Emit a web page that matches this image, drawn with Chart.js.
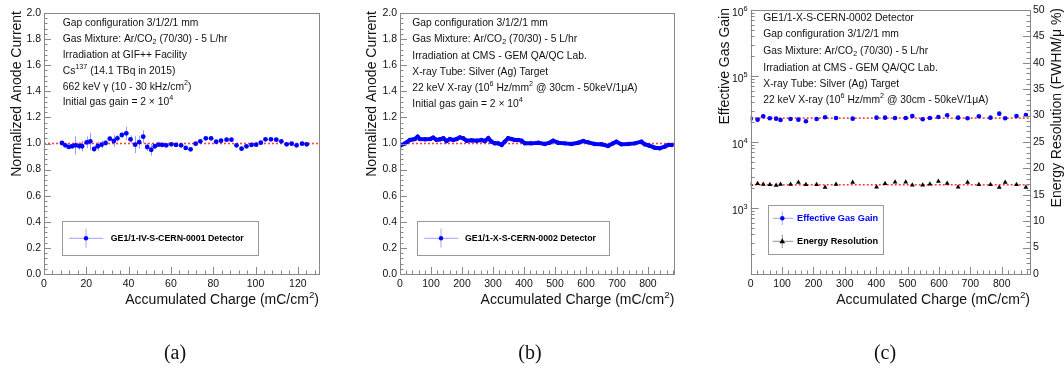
<!DOCTYPE html>
<html>
<head>
<meta charset="utf-8">
<script src="https://cdn.jsdelivr.net/npm/chart.js@4.4.1/dist/chart.umd.min.js"></script>
<style>
  html, body { margin: 0; padding: 0; background: #fff; }
  #wrap { position: relative; width: 1064px; height: 371px; overflow: hidden; }
  canvas { position: absolute; top: 0; }
</style>
</head>
<body>
<div id="wrap">
  <canvas id="ca" width="350" height="371" style="left:0px"></canvas>
  <canvas id="cb" width="350" height="371" style="left:350px"></canvas>
  <canvas id="cc" width="364" height="371" style="left:700px"></canvas>
</div>
<script>
// --- DATA ---
// (a) GE1/1-IV-S-CERN-0001 at GIF++
const xA = [8.5, 10.1, 11.7, 13.3, 14.8, 16.6, 18.0, 20.2, 21.9, 23.7, 25.4, 27.2, 29.1, 31.1, 33.0, 34.7, 36.8, 38.9, 40.9, 43.1,
            45.0, 46.9, 48.8, 50.7, 52.4, 54.2, 55.9, 57.8, 60.2, 62.4, 64.8, 67.0, 69.3, 71.7, 73.9, 76.5, 79.0, 81.4, 83.7, 86.3,
            88.6, 91.0, 93.4, 95.7, 98.1, 100.3, 102.5, 104.7, 107.3, 109.8, 112.2, 114.7, 117.1, 119.4, 122.0, 124.2];
const yA = [1.004, 0.986, 0.974, 0.979, 0.986, 0.981, 0.979, 1.009, 1.017, 0.958, 0.979, 0.991, 1.004, 1.037, 1.019, 1.040, 1.065, 1.078, 1.032, 0.991,
            1.011, 1.052, 0.973, 0.952, 0.979, 0.991, 0.989, 0.986, 0.994, 0.989, 0.986, 0.966, 0.955, 0.999, 1.017, 1.040, 1.040, 1.014, 1.022, 1.029,
            1.029, 0.986, 0.960, 0.978, 0.989, 0.991, 1.006, 1.032, 1.032, 1.029, 1.017, 0.994, 0.999, 0.986, 0.999, 0.994];
const errA = [0.005, 0.01, 0.01, 0.01, 0.07, 0.03, 0.04, 0.045, 0.066, 0.02, 0.035, 0.03, 0.02, 0.02, 0.045, 0.025, 0.02, 0.05, 0.03, 0.065,
              0.05, 0.05, 0.03, 0.045, 0.02, 0.008, 0.008, 0.008, 0.008, 0.008, 0.008, 0.008, 0.008, 0.008, 0.008, 0.008, 0.008, 0.008, 0.008, 0.008,
              0.008, 0.008, 0.008, 0.008, 0.008, 0.008, 0.008, 0.008, 0.008, 0.008, 0.008, 0.008, 0.008, 0.008, 0.008, 0.008];
const fitA = 1.0;

// (b) GE1/1-X-S-CERN-0002 with X-ray
const xB = [0, 16, 32, 48, 57, 64, 81, 97, 107, 118, 129, 140, 150, 161, 172, 183, 193, 204, 215, 231,
            247, 263, 274, 285, 295, 306, 317, 328, 338, 349, 360, 370, 381, 392, 403, 424, 446, 467, 483, 494,
            510, 532, 553, 575, 591, 607, 628, 650, 671, 687, 698, 714, 736, 757, 779, 789, 805, 822, 838, 854, 865, 877];
const yB = [0.983, 1.000, 1.027, 1.034, 1.052, 1.034, 1.032, 1.034, 1.045, 1.027, 1.032, 1.040, 1.019, 1.034, 1.027, 1.034, 1.047, 1.040, 1.022, 1.024,
            1.022, 1.027, 1.019, 1.040, 1.014, 1.001, 1.001, 0.989, 1.014, 1.040, 1.034, 1.027, 1.027, 1.022, 1.001, 1.001, 1.006, 0.996, 1.006, 1.022,
            1.006, 1.001, 0.996, 1.006, 1.019, 1.009, 0.996, 0.994, 0.981, 1.001, 1.014, 0.994, 0.996, 1.001, 1.014, 0.994, 0.983, 0.968, 0.963, 0.976, 0.989, 0.989];
const fitB = 1.0;

// (c) gain and energy resolution
const xC = [0, 22, 40, 61, 81, 95, 127, 152, 176, 210, 237, 272, 325, 401, 428, 460, 494, 515, 548, 571,
            598, 626, 661, 691, 727, 764, 792, 811, 847, 877];
const gainC = [22600, 21800, 24500, 22900, 22600, 21600, 22300, 21800, 20600, 22300, 23700, 23100, 22600, 23400, 23400, 23100, 23100, 24800, 22100, 23100,
               23900, 25400, 23400, 22900, 24500, 23400, 26900, 22900, 24800, 25600];
const resC = [16.98, 17.11, 16.98, 16.92, 16.79, 16.98, 16.98, 17.36, 16.92, 16.92, 16.41, 16.98, 17.36, 16.48, 17.11, 17.42, 17.42, 16.86, 16.86, 17.05,
              17.55, 17.17, 16.48, 17.36, 16.92, 16.92, 16.41, 17.36, 16.92, 16.41];
const fitGainC = 23000;
const fitResC = 16.9;

// tick labels
const xTicksA = [0, 20, 40, 60, 80, 100, 120];
const yTicks = [0, 0.2, 0.4, 0.6, 0.8, 1.0, 1.2, 1.4, 1.6, 1.8, 2.0];
const xTicksB = [0, 100, 200, 300, 400, 500, 600, 700, 800];
const xTicksC = [0, 100, 200, 300, 400, 500, 600, 700, 800];
const gainTicksC = [1e3, 1e4, 1e5, 1e6];
const gainLabelsC = ['10^{3}', '10^{4}', '10^{5}', '10^{6}'];
const resTicksC = [0, 5, 10, 15, 20, 25, 30, 35, 40, 45, 50];

const FONT = '"Liberation Sans", Arial, Helvetica, sans-serif';
const AXIS = '#888';

// --- HELPERS ---
function richText(ctx, str, x, y, size, opt) {
    opt = opt || {};
    const parts = [];
    const re = /([\^_])\{([^}]*)\}/g;
    let last = 0, m;
    while ((m = re.exec(str))) {
        if (m.index > last) parts.push({ t: str.slice(last, m.index), k: '' });
        parts.push({ t: m[2], k: m[1] });
        last = re.lastIndex;
    }
    if (last < str.length) parts.push({ t: str.slice(last), k: '' });
    const weight = opt.bold ? 'bold ' : '';
    const fontFor = k => weight + (k ? size * 0.7 : size) + 'px ' + FONT;
    let w = 0;
    parts.forEach(p => { ctx.font = fontFor(p.k); p.w = ctx.measureText(p.t).width; w += p.w; });
    let cx = opt.align === 'right' ? x - w : x;
    ctx.fillStyle = opt.color || '#111';
    ctx.textBaseline = 'middle';
    ctx.textAlign = 'left';
    parts.forEach(p => {
        ctx.font = fontFor(p.k);
        const dy = p.k === '^' ? -size * 0.4 : p.k === '_' ? size * 0.25 : 0;
        ctx.fillText(p.t, cx, y + dy);
        cx += p.w;
    });
    return w;
}

function steps(min, max, step) {
    const out = [];
    for (let v = min; v <= max + 1e-9; v += step) out.push(+v.toFixed(6));
    return out;
}

function makeRoot(cfg) {
    return {
        id: 'root',
        beforeDatasetsDraw(chart) {
            const ctx = chart.ctx, a = chart.chartArea;
            ctx.save();
            ctx.beginPath(); ctx.rect(a.left, a.top, a.right - a.left, a.bottom - a.top); ctx.clip();
            chart.data.datasets.forEach(ds => {
                if (!ds.errs) return;
                const xs = chart.scales.x, ys = chart.scales[ds.yAxisID || 'y'];
                ctx.strokeStyle = ds.errColor; ctx.lineWidth = 1;
                ds.data.forEach((p, j) => {
                    const px = Math.round(xs.getPixelForValue(p.x)) + 0.5;
                    ctx.beginPath();
                    ctx.moveTo(px, ys.getPixelForValue(p.y - ds.errs[j]));
                    ctx.lineTo(px, ys.getPixelForValue(p.y + ds.errs[j]));
                    ctx.stroke();
                });
            });
            ctx.restore();
        },
        afterDraw(chart) {
            const ctx = chart.ctx, a = chart.chartArea;
            ctx.save();
            // frame
            ctx.strokeStyle = AXIS; ctx.lineWidth = 1;
            ctx.strokeRect(Math.round(a.left) + 0.5, Math.round(a.top) + 0.5, Math.round(a.right - a.left), Math.round(a.bottom - a.top));
            // ticks
            const xs = chart.scales.x, ys = chart.scales.y;
            const tickX = (vals, len) => vals.forEach(v => {
                const p = Math.round(xs.getPixelForValue(v)) + 0.5;
                ctx.beginPath(); ctx.moveTo(p, a.bottom); ctx.lineTo(p, a.bottom - len); ctx.stroke();
            });
            const tickY = (scale, vals, len, right) => vals.forEach(v => {
                const p = Math.round(scale.getPixelForValue(v)) + 0.5;
                const x0 = right ? a.right : a.left;
                ctx.beginPath(); ctx.moveTo(x0, p); ctx.lineTo(right ? x0 - len : x0 + len, p); ctx.stroke();
            });
            tickX(cfg.xMajor, 7);
            tickX(steps(0, xs.max, cfg.xMinor), 3.5);
            if (cfg.logY) {
                const minors = [];
                for (let d = 2; d < 6; d++) for (let m = 2; m < 10; m++) minors.push(m * Math.pow(10, d));
                tickY(ys, minors, 4, false);
                tickY(ys, [1e2].concat(gainTicksC), 8, false);
                gainTicksC.forEach((v, i) => {
                    richText(ctx, gainLabelsC[i], a.left - 3, ys.getPixelForValue(v) + 3, 10.5, { align: 'right' });
                });
                const y2 = chart.scales.y2;
                tickY(y2, steps(0, 50, 1), 3.5, true);
                tickY(y2, resTicksC, 7, true);
            } else {
                tickY(ys, steps(0, 2, 0.04), 3.5, false);
                tickY(ys, yTicks, 7, false);
            }
            // annotation text
            cfg.texts.forEach((t, i) => richText(ctx, t, cfg.textX, cfg.textY[i], 10.3));
            // axis titles
            richText(ctx, 'Accumulated Charge (mC/cm^{2})', a.right, 300.5, 14, { align: 'right' });
            cfg.yTitles.forEach(t => {
                ctx.save();
                ctx.translate(t.x, t.yEnd);
                ctx.rotate(-Math.PI / 2);
                richText(ctx, t.text, 0, 0, 14, { align: 'right' });
                ctx.restore();
            });
            // legend
            const L = cfg.legend;
            ctx.fillStyle = '#fff';
            ctx.fillRect(L.box[0], L.box[1], L.box[2] - L.box[0], L.box[3] - L.box[1]);
            ctx.strokeStyle = '#999';
            ctx.strokeRect(Math.round(L.box[0]) + 0.5, Math.round(L.box[1]) + 0.5, Math.round(L.box[2] - L.box[0]), Math.round(L.box[3] - L.box[1]));
            L.items.forEach(it => {
                ctx.strokeStyle = it.bar; ctx.lineWidth = 1.2;
                ctx.beginPath();
                ctx.moveTo(L.bx0, it.y); ctx.lineTo(L.bx1, it.y);
                ctx.moveTo(L.mx, it.y - L.vh); ctx.lineTo(L.mx, it.y + L.vh);
                ctx.stroke();
                ctx.fillStyle = it.mColor;
                ctx.beginPath();
                if (it.marker === 'triangle') {
                    ctx.moveTo(L.mx, it.y - 3); ctx.lineTo(L.mx + 2.8, it.y + 2); ctx.lineTo(L.mx - 2.8, it.y + 2); ctx.closePath();
                } else {
                    ctx.arc(L.mx, it.y, 2.2, 0, Math.PI * 2);
                }
                ctx.fill();
                richText(ctx, it.label, L.tx, it.y, L.size, { bold: true, color: it.color });
            });
            // panel label
            ctx.font = '20px "Liberation Serif", "Times New Roman", serif';
            ctx.fillStyle = '#111'; ctx.textAlign = 'center'; ctx.textBaseline = 'middle';
            ctx.fillText(cfg.panel.text, cfg.panel.x, cfg.panel.y);
            ctx.restore();
        }
    };
}

const tickFont = { family: FONT, size: 10.5 };
function xAxis(max, ticks) {
    return {
        type: 'linear', min: 0, max: max,
        afterBuildTicks: s => { s.ticks = ticks.map(v => ({ value: v })); },
        afterFit: s => { s.height = 97; },
        grid: { display: false, drawTicks: false }, border: { display: false },
        ticks: { padding: 4, color: '#111', font: tickFont, maxRotation: 0, autoSkip: false, callback: v => String(v) }
    };
}
function normAxis(width) {
    return {
        type: 'linear', min: 0, max: 2,
        afterBuildTicks: s => { s.ticks = yTicks.map(v => ({ value: v })); },
        afterFit: s => { s.width = width; },
        grid: { display: false, drawTicks: false }, border: { display: false },
        ticks: { padding: 3, color: '#111', font: tickFont, autoSkip: false, callback: v => v.toFixed(1) }
    };
}
// dotted red fit line
const fitLine = (x0, x1, y, axis) => ({
    type: 'line', data: [{ x: x0, y: y }, { x: x1, y: y }], yAxisID: axis || 'y',
    borderColor: '#ff4040', borderWidth: 1.6, borderDash: [2, 2], pointRadius: 0
});
const baseOpts = { responsive: false, animation: false, plugins: { legend: { display: false }, tooltip: { enabled: false } } };

// --- PANEL (a) ---
new Chart(document.getElementById('ca'), {
    type: 'scatter',
    data: {
        datasets: [
            { data: xA.map((x, i) => ({ x: x, y: yA[i] })), errs: errA, errColor: 'rgba(70,70,255,0.55)',
              backgroundColor: '#0000ff', borderWidth: 0, pointRadius: 2.4 },
            fitLine(0, 130, fitA)
        ]
    },
    options: Object.assign({}, baseOpts, {
        layout: { padding: { left: 0, top: 13, right: 31, bottom: 0 } },
        scales: { x: xAxis(130, xTicksA), y: normAxis(44) }
    }),
    plugins: [makeRoot({
        xMajor: xTicksA, xMinor: 4,
        texts: ['Gap configuration 3/1/2/1 mm', 'Gas Mixture: Ar/CO_{2} (70/30) - 5 L/hr', 'Irradiation at GIF++ Facility',
                'Cs^{137} (14.1 TBq in 2015)', '662 keV γ (10 - 30 kHz/cm^{2})', 'Initial gas gain = 2 × 10^{4}'],
        textX: 62.7, textY: [23.3, 39, 54.8, 70.7, 87.0, 102.6],
        yTitles: [{ text: 'Normalized Anode Current', x: 17.5, yEnd: 11 }],
        legend: { box: [61.7, 220.7, 257.7, 254.3], bx0: 69, bx1: 103.3, mx: 86, vh: 9.5, tx: 110.7, size: 8.8,
                  items: [{ y: 238.3, label: 'GE1/1-IV-S-CERN-0001 Detector', color: '#000', mColor: '#0000ff', bar: 'rgba(90,90,255,0.45)' }] },
        panel: { text: '(a)', x: 175, y: 354 }
    })]
});

// --- PANEL (b) ---
new Chart(document.getElementById('cb'), {
    type: 'scatter',
    data: {
        datasets: [
            { data: xB.map((x, i) => ({ x: x, y: yB[i] })), showLine: true, borderColor: '#0000ff', borderWidth: 4,
              backgroundColor: '#0000ff', pointRadius: 2.2, pointBorderWidth: 0 },
            fitLine(0, 885, fitB)
        ]
    },
    options: Object.assign({}, baseOpts, {
        layout: { padding: { left: 0, top: 13, right: 25.7, bottom: 0 } },
        scales: { x: xAxis(885, xTicksB), y: normAxis(50) }
    }),
    plugins: [makeRoot({
        xMajor: xTicksB, xMinor: 20,
        texts: ['Gap configuration 3/1/2/1 mm', 'Gas Mixture: Ar/CO_{2} (70/30) - 5 L/hr', 'Irradiation at CMS - GEM QA/QC Lab.',
                'X-ray Tube: Silver (Ag) Target', '22 keV X-ray (10^{6} Hz/mm^{2} @ 30cm - 50keV/1μA)', 'Initial gas gain = 2 × 10^{4}'],
        textX: 62.3, textY: [23.3, 39, 55.7, 72, 88.3, 104.3],
        yTitles: [{ text: 'Normalized Anode Current', x: 22.3, yEnd: 11 }],
        legend: { box: [67.3, 220.7, 259.7, 254.3], bx0: 74.3, bx1: 108.3, mx: 91, vh: 9.5, tx: 115, size: 8.8,
                  items: [{ y: 238.3, label: 'GE1/1-X-S-CERN-0002 Detector', color: '#000', mColor: '#0000ff', bar: 'rgba(90,90,255,0.45)' }] },
        panel: { text: '(b)', x: 180, y: 354 }
    })]
});

// --- PANEL (c) ---
new Chart(document.getElementById('cc'), {
    type: 'scatter',
    data: {
        datasets: [
            { data: xC.map((x, i) => ({ x: x, y: gainC[i] })), backgroundColor: '#0000ff', borderWidth: 0, pointRadius: 2.3 },
            { data: xC.map((x, i) => ({ x: x, y: resC[i] })), yAxisID: 'y2', pointStyle: 'triangle',
              backgroundColor: '#000', borderColor: '#000', borderWidth: 0, pointRadius: 2.8 },
            fitLine(0, 890, fitGainC),
            fitLine(0, 890, fitResC, 'y2')
        ]
    },
    options: Object.assign({}, baseOpts, {
        layout: { padding: { left: 0, top: 10, right: 0, bottom: 0 } },
        scales: {
            x: xAxis(890, xTicksC),
            y: {
                type: 'logarithmic', min: 100, max: 1e6, position: 'left',
                afterFit: s => { s.width = 50.7; },
                grid: { display: false, drawTicks: false }, border: { display: false },
                ticks: { display: false }
            },
            y2: {
                type: 'linear', min: 0, max: 50, position: 'right',
                afterBuildTicks: s => { s.ticks = resTicksC.map(v => ({ value: v })); },
                afterFit: s => { s.width = 34; },
                grid: { display: false, drawTicks: false }, border: { display: false },
                ticks: { padding: 3, color: '#111', font: tickFont, autoSkip: false, callback: v => String(v) }
            }
        }
    }),
    plugins: [makeRoot({
        logY: true, xMajor: xTicksC, xMinor: 20,
        texts: ['GE1/1-X-S-CERN-0002 Detector', 'Gap configuration 3/1/2/1 mm', 'Gas Mixture: Ar/CO_{2} (70/30) - 5 L/hr',
                'Irradiation at CMS - GEM QA/QC Lab.', 'X-ray Tube: Silver (Ag) Target', '22 keV X-ray (10^{6} Hz/mm^{2} @ 30cm - 50keV/1μA)'],
        textX: 63.3, textY: [18.3, 34.3, 51, 67.7, 84.3, 100.3],
        yTitles: [{ text: 'Effective Gas Gain', x: 25, yEnd: 8 }, { text: 'Energy Resolution (FWHM/μ %)', x: 356.7, yEnd: 8 }],
        legend: { box: [68.3, 205.3, 183.3, 254], bx0: 72.7, bx1: 93.3, mx: 82.3, vh: 6.7, tx: 97, size: 9.2,
                  items: [{ y: 218.3, label: 'Effective Gas Gain', color: '#0000ff', mColor: '#0000ff', bar: 'rgba(90,90,255,0.45)' },
                          { y: 241.3, label: 'Energy Resolution', color: '#000', mColor: '#000', marker: 'triangle', bar: 'rgba(0,0,0,0.35)' }] },
        panel: { text: '(c)', x: 185, y: 354 }
    })]
});
</script>
</body>
</html>
